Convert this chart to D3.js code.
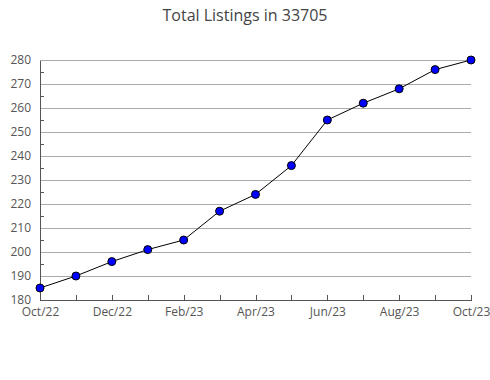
<!DOCTYPE html>
<html><head><meta charset="utf-8">
<script src="https://cdn.jsdelivr.net/npm/d3@7"></script>
<style>body{margin:0;background:#fff}svg{display:block}text{font-family:"Open Sans",sans-serif}</style>
</head><body><svg id="c" width="490" height="380"></svg>
<script>
const months = ["Oct/22","Nov/22","Dec/22","Jan/23","Feb/23","Mar/23","Apr/23","May/23","Jun/23","Jul/23","Aug/23","Sep/23","Oct/23"];
const listings = [185,190,196,201,205,217,224,236,255,262,268,276,280];
const xLabels = ["Oct/22","Dec/22","Feb/23","Apr/23","Jun/23","Aug/23","Oct/23"];
const yTicks = [180,190,200,210,220,230,240,250,260,270,280];
const yMinor = [185,195,205,215,225,235,245,255,265,275];
const title = "Total Listings in 33705";

const svg = d3.select("#c");
const L=40,R=471,T=60,B=300;
const x = d3.scalePoint().domain(months).range([L,R]);
const y = d3.scaleLinear().domain([180,280]).range([B,T]);

svg.append("text").attr("x",245).attr("y",21).attr("text-anchor","middle")
  .attr("font-size",16).attr("fill","#444").text(title);

// grid
svg.append("g").selectAll("line").data(yTicks.slice(1)).join("line")
  .attr("x1",L).attr("x2",R).attr("y1",d=>y(d)).attr("y2",d=>y(d))
  .attr("stroke","#aaa").attr("stroke-width",1).attr("shape-rendering","crispEdges");

// y axis
const ya = svg.append("g").attr("transform",`translate(${L},0)`)
  .call(d3.axisLeft(y).tickValues(yTicks).tickSize(0).tickPadding(9));
ya.select(".domain").attr("stroke","#555");
ya.selectAll("text").attr("font-size",12).attr("fill","#555").style("font-family","'Open Sans',sans-serif");
svg.append("g").selectAll("line").data(yMinor).join("line")
  .attr("x1",L).attr("x2",L+4).attr("y1",d=>y(d)).attr("y2",d=>y(d))
  .attr("stroke","#555").attr("shape-rendering","crispEdges");

// x axis
const xa = svg.append("g").attr("transform",`translate(0,${B})`)
  .call(d3.axisBottom(x).tickSizeInner(-5).tickSizeOuter(0).tickPadding(5)
    .tickFormat(d=>xLabels.includes(d)?d:""));
xa.select(".domain").attr("stroke","#555");
xa.selectAll("line").attr("stroke","#555");
xa.selectAll("text").attr("font-size",12).attr("fill","#555").attr("dy","0.9em").style("font-family","'Open Sans',sans-serif");
ya.selectAll("path,line").attr("shape-rendering","crispEdges");
xa.selectAll("path,line").attr("shape-rendering","crispEdges");

// line
svg.append("path").datum(listings)
  .attr("d",d3.line().x((d,i)=>x(months[i])).y(d=>y(d)))
  .attr("fill","none").attr("stroke","#000").attr("stroke-width",1);
svg.append("g").selectAll("circle").data(listings).join("circle")
  .attr("cx",(d,i)=>x(months[i])).attr("cy",d=>y(d)).attr("r",4)
  .attr("fill","#0000ff").attr("stroke","#000").attr("stroke-width",1);
</script></body></html>
